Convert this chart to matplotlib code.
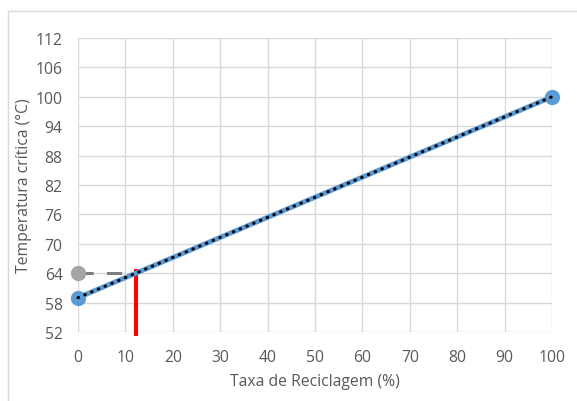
import matplotlib
matplotlib.use("Agg")
import matplotlib.pyplot as plt
from matplotlib.patches import Rectangle

# Data
x_main = [0, 100]
y_main = [59, 100]
x_ref = [0, 12.2]
y_ref = [64, 64]
x_red = [12.2, 12.2]
y_red = [51.6, 64.5]
xticks = [0, 10, 20, 30, 40, 50, 60, 70, 80, 90, 100]
yticks = [52, 58, 64, 70, 76, 82, 88, 94, 100, 106, 112]

plt.rcParams['font.family'] = ['Open Sans', 'DejaVu Sans']
txt = '#595959'
W, H = 577, 402
fig = plt.figure(figsize=(W/100, H/100), dpi=100)
fig.patch.set_facecolor('white')
fig.add_artist(Rectangle((8/W, -0.05), 1.2, (H-12)/H + 0.05, transform=fig.transFigure,
                         fill=False, edgecolor='#d9d9d9', linewidth=1.0))

ax = fig.add_axes([78/W, (H-333)/H, (552-78)/W, (333-39)/H])
ax.set_xlim(0, 100)
ax.set_ylim(52, 112)
ax.set_xticks(xticks)
ax.set_yticks(yticks)
ax.grid(True, color='#d9d9d9', linewidth=1.0)
ax.set_axisbelow(True)
for s in ax.spines.values():
    s.set_visible(False)
ax.tick_params(length=0, labelsize=11.3, colors=txt)
ax.tick_params(axis='x', pad=12)
ax.tick_params(axis='y', pad=11)

ax.plot(x_ref, y_ref, color='#7f7f7f', linewidth=2.2, dashes=(5, 4.3), zorder=3, clip_on=False)
ax.plot([x_ref[0]], [y_ref[0]], 'o', color='#a5a5a5', markersize=10, zorder=4, clip_on=False)
ax.plot(x_red, y_red, color='#ff0000', linewidth=2.9, zorder=3, clip_on=False)
ax.plot(x_main, y_main, color='#5b9bd5', linewidth=3.6, marker='o', markersize=10, zorder=5, clip_on=False)
ax.plot(x_main, y_main, color='black', linewidth=2.2, linestyle=(0, (0.2, 2.2)),
        dash_capstyle='round', zorder=6, clip_on=False)

ax.set_xlabel('Taxa de Reciclagem (%)', fontsize=11.3, color=txt, labelpad=6)
ax.set_ylabel('Temperatura crítica (°C)', fontsize=11.3, color=txt, labelpad=3)

fig.savefig('out.png', dpi=100)
